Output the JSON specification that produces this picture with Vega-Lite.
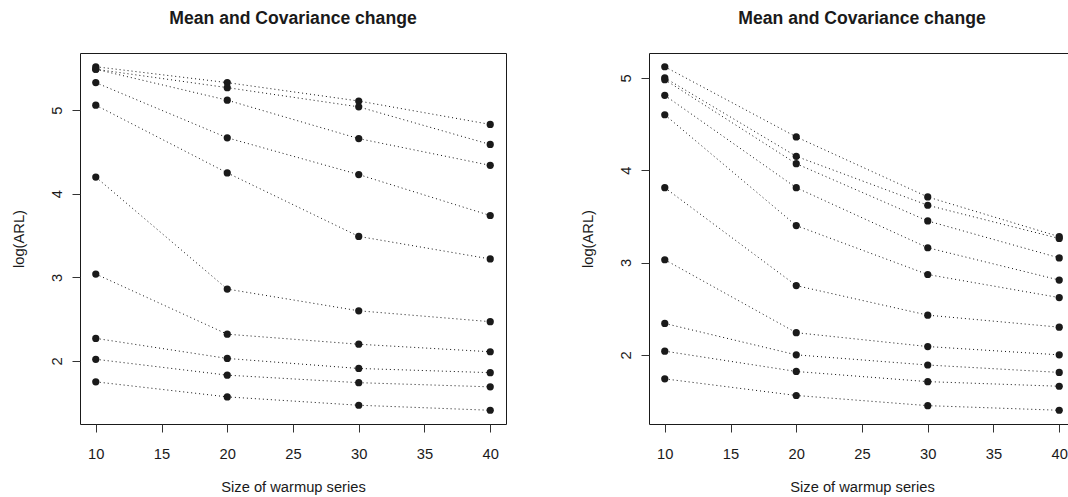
{
  "$schema": "https://vega.github.io/schema/vega-lite/v6.json",
  "background": "white",
  "padding": {"left": 10, "top": 9, "right": 0, "bottom": 0},
  "bounds": "flush",
  "spacing": 143,
  "datasets": {
    "left": [
      {"series": 1, "x": 10, "y": 5.52}, {"series": 1, "x": 20, "y": 5.33}, {"series": 1, "x": 30, "y": 5.11}, {"series": 1, "x": 40, "y": 4.83},
      {"series": 2, "x": 10, "y": 5.49}, {"series": 2, "x": 20, "y": 5.27}, {"series": 2, "x": 30, "y": 5.04}, {"series": 2, "x": 40, "y": 4.59},
      {"series": 3, "x": 10, "y": 5.49}, {"series": 3, "x": 20, "y": 5.12}, {"series": 3, "x": 30, "y": 4.66}, {"series": 3, "x": 40, "y": 4.34},
      {"series": 4, "x": 10, "y": 5.33}, {"series": 4, "x": 20, "y": 4.67}, {"series": 4, "x": 30, "y": 4.23}, {"series": 4, "x": 40, "y": 3.74},
      {"series": 5, "x": 10, "y": 5.06}, {"series": 5, "x": 20, "y": 4.25}, {"series": 5, "x": 30, "y": 3.49}, {"series": 5, "x": 40, "y": 3.22},
      {"series": 6, "x": 10, "y": 4.20}, {"series": 6, "x": 20, "y": 2.86}, {"series": 6, "x": 30, "y": 2.60}, {"series": 6, "x": 40, "y": 2.47},
      {"series": 7, "x": 10, "y": 3.04}, {"series": 7, "x": 20, "y": 2.32}, {"series": 7, "x": 30, "y": 2.20}, {"series": 7, "x": 40, "y": 2.11},
      {"series": 8, "x": 10, "y": 2.27}, {"series": 8, "x": 20, "y": 2.03}, {"series": 8, "x": 30, "y": 1.91}, {"series": 8, "x": 40, "y": 1.86},
      {"series": 9, "x": 10, "y": 2.02}, {"series": 9, "x": 20, "y": 1.83}, {"series": 9, "x": 30, "y": 1.74}, {"series": 9, "x": 40, "y": 1.69},
      {"series": 10, "x": 10, "y": 1.75}, {"series": 10, "x": 20, "y": 1.57}, {"series": 10, "x": 30, "y": 1.47}, {"series": 10, "x": 40, "y": 1.41}
    ],
    "right": [
      {"series": 1, "x": 10, "y": 5.12}, {"series": 1, "x": 20, "y": 4.36}, {"series": 1, "x": 30, "y": 3.71}, {"series": 1, "x": 40, "y": 3.28},
      {"series": 2, "x": 10, "y": 5.00}, {"series": 2, "x": 20, "y": 4.15}, {"series": 2, "x": 30, "y": 3.62}, {"series": 2, "x": 40, "y": 3.26},
      {"series": 3, "x": 10, "y": 4.98}, {"series": 3, "x": 20, "y": 4.07}, {"series": 3, "x": 30, "y": 3.45}, {"series": 3, "x": 40, "y": 3.05},
      {"series": 4, "x": 10, "y": 4.81}, {"series": 4, "x": 20, "y": 3.81}, {"series": 4, "x": 30, "y": 3.16}, {"series": 4, "x": 40, "y": 2.81},
      {"series": 5, "x": 10, "y": 4.60}, {"series": 5, "x": 20, "y": 3.40}, {"series": 5, "x": 30, "y": 2.87}, {"series": 5, "x": 40, "y": 2.62},
      {"series": 6, "x": 10, "y": 3.81}, {"series": 6, "x": 20, "y": 2.75}, {"series": 6, "x": 30, "y": 2.43}, {"series": 6, "x": 40, "y": 2.30},
      {"series": 7, "x": 10, "y": 3.03}, {"series": 7, "x": 20, "y": 2.24}, {"series": 7, "x": 30, "y": 2.09}, {"series": 7, "x": 40, "y": 2.00},
      {"series": 8, "x": 10, "y": 2.34}, {"series": 8, "x": 20, "y": 2.00}, {"series": 8, "x": 30, "y": 1.89}, {"series": 8, "x": 40, "y": 1.81},
      {"series": 9, "x": 10, "y": 2.04}, {"series": 9, "x": 20, "y": 1.82}, {"series": 9, "x": 30, "y": 1.71}, {"series": 9, "x": 40, "y": 1.66},
      {"series": 10, "x": 10, "y": 1.74}, {"series": 10, "x": 20, "y": 1.56}, {"series": 10, "x": 30, "y": 1.45}, {"series": 10, "x": 40, "y": 1.40}
    ]
  },
  "config": {
    "font": "Liberation Sans",
    "view": {"stroke": "#1a1a1a", "strokeWidth": 1},
    "axis": {
      "domain": false, "grid": false, "tickColor": "#333333", "tickSize": 8, "tickWidth": 1,
      "labelFont": "Liberation Sans", "labelFontSize": 14.7, "labelColor": "#1a1a1a",
      "titleFont": "Liberation Sans", "titleFontSize": 14.7, "titleFontWeight": "normal", "titleColor": "#1a1a1a"
    },
    "axisX": {"labelAngle": 0, "labelPadding": 14, "titlePadding": 19},
    "axisY": {"labelAngle": -90, "labelAlign": "center", "labelBaseline": "bottom", "labelPadding": 8, "titlePadding": 23},
    "title": {"font": "Liberation Sans", "fontSize": 17.6, "fontWeight": "bold", "color": "#1a1a1a", "anchor": "middle", "baseline": "alphabetic", "offset": 25}
  },
  "hconcat": [
    {
      "title": "Mean and Covariance change",
      "width": 426, "height": 371,
      "data": {"name": "left"},
      "encoding": {
        "x": {"field": "x", "type": "quantitative", "scale": {"domain": [8.8, 41.2], "nice": false, "zero": false}, "axis": {"values": [10, 15, 20, 25, 30, 35, 40], "title": "Size of warmup series"}},
        "y": {"field": "y", "type": "quantitative", "scale": {"domain": [1.2456, 5.6844], "nice": false, "zero": false}, "axis": {"values": [2, 3, 4, 5], "title": "log(ARL)"}}
      },
      "layer": [
        {"mark": {"type": "line", "strokeDash": [1, 3], "strokeWidth": 1, "color": "#111111"}, "encoding": {"detail": {"field": "series", "type": "nominal"}}},
        {"mark": {"type": "point", "filled": true, "size": 52, "color": "#1a1a1a", "opacity": 1}}
      ]
    },
    {
      "title": "Mean and Covariance change",
      "width": 426, "height": 371,
      "data": {"name": "right"},
      "encoding": {
        "x": {"field": "x", "type": "quantitative", "scale": {"domain": [8.8, 41.2], "nice": false, "zero": false}, "axis": {"values": [10, 15, 20, 25, 30, 35, 40], "title": "Size of warmup series"}},
        "y": {"field": "y", "type": "quantitative", "scale": {"domain": [1.2512, 5.2688], "nice": false, "zero": false}, "axis": {"values": [2, 3, 4, 5], "title": "log(ARL)"}}
      },
      "layer": [
        {"mark": {"type": "line", "strokeDash": [1, 3], "strokeWidth": 1, "color": "#111111"}, "encoding": {"detail": {"field": "series", "type": "nominal"}}},
        {"mark": {"type": "point", "filled": true, "size": 52, "color": "#1a1a1a", "opacity": 1}}
      ]
    }
  ]
}
